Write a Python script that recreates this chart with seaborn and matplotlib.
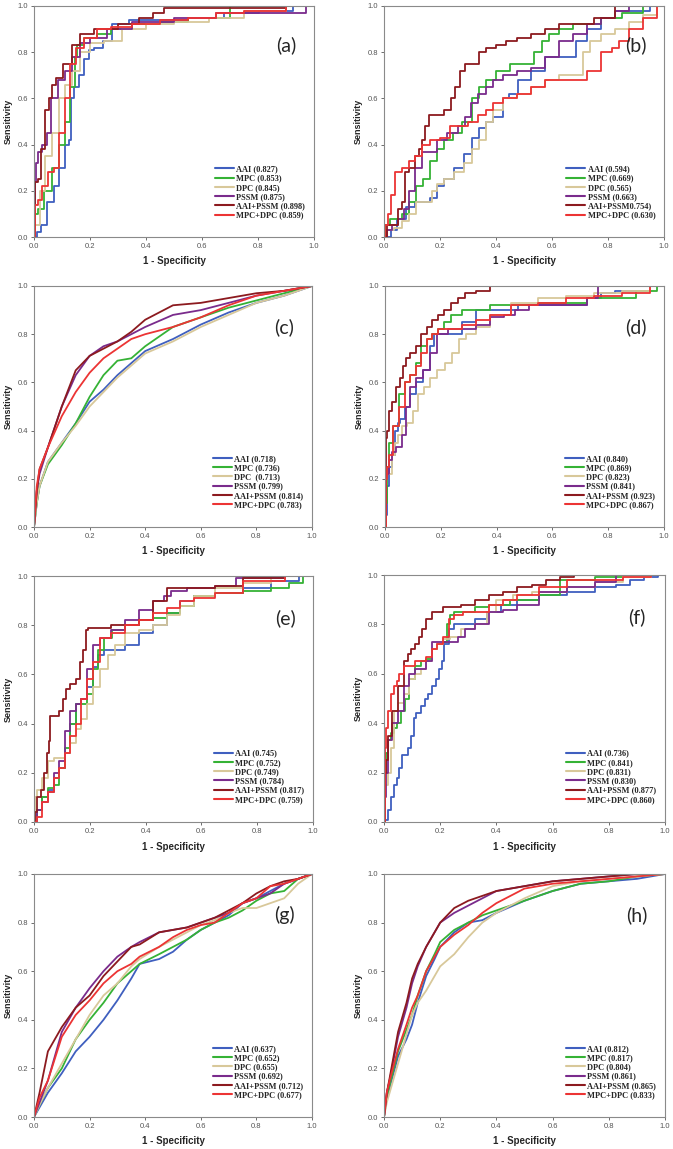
#==========================================
###     ROC CURVES, 8 PANELS
#==========================================
import pandas as pd
import numpy as np
import matplotlib
matplotlib.use('Agg')
import matplotlib.pyplot as plt
import seaborn as sns

sns.set_style('white')
plt.rcParams['font.family'] = ['Liberation Sans', 'DejaVu Sans']

#-----------------
## Data

methods = ['AAI', 'MPC', 'DPC', 'PSSM', 'AAI+PSSM', 'MPC+DPC']
colors = ['#3f5fbf', '#35b235', '#d8c89a', '#7a2b8c', '#8c1a1f', '#ec3434']
panel_names = ['(a)', '(b)', '(c)', '(d)', '(e)', '(f)', '(g)', '(h)']

# legend labels as printed (b has a typo in the original)
labels_a = ['AAI (0.827)', 'MPC (0.853)', 'DPC (0.845)', 'PSSM (0.875)', 'AAI+PSSM (0.898)', 'MPC+DPC (0.859)']
labels_b = ['AAI (0.594)', 'MPC (0.669)', 'DPC (0.565)', 'PSSM (0.663)', 'AAI+PSSM0.754)', 'MPC+DPC (0.630)']
labels_c = ['AAI (0.718)', 'MPC (0.736)', 'DPC  (0.713)', 'PSSM (0.799)', 'AAI+PSSM (0.814)', 'MPC+DPC (0.783)']
labels_d = ['AAI (0.840)', 'MPC (0.869)', 'DPC (0.823)', 'PSSM (0.841)', 'AAI+PSSM (0.923)', 'MPC+DPC (0.867)']
labels_e = ['AAI (0.745)', 'MPC (0.752)', 'DPC (0.749)', 'PSSM (0.784)', 'AAI+PSSM (0.817)', 'MPC+DPC (0.759)']
labels_f = ['AAI (0.736)', 'MPC (0.841)', 'DPC (0.831)', 'PSSM (0.830)', 'AAI+PSSM (0.877)', 'MPC+DPC (0.860)']
labels_g = ['AAI (0.637)', 'MPC (0.652)', 'DPC (0.655)', 'PSSM (0.692)', 'AAI+PSSM (0.712)', 'MPC+DPC (0.677)']
labels_h = ['AAI (0.812)', 'MPC (0.817)', 'DPC (0.804)', 'PSSM (0.861)', 'AAI+PSSM (0.865)', 'MPC+DPC (0.833)']

# (a)
a_aai_x = [0, 0.02, 0.03, 0.06, 0.08, 0.1, 0.12, 0.13, 0.135, 0.15, 0.17, 0.19, 0.2, 0.23, 0.26, 0.3, 0.38, 0.5, 0.6, 0.76, 0.85, 1.0]
a_aai_y = [0, 0.02, 0.05, 0.15, 0.22, 0.3, 0.4, 0.42, 0.6, 0.65, 0.7, 0.77, 0.81, 0.82, 0.85, 0.92, 0.94, 0.94, 0.95, 0.97, 0.98, 1.0]
a_mpc_x = [0, 0.01, 0.02, 0.05, 0.08, 0.1, 0.12, 0.14, 0.15, 0.16, 0.2, 0.25, 0.3, 0.4, 0.5, 0.6, 0.8, 1.0]
a_mpc_y = [0, 0.1, 0.12, 0.2, 0.3, 0.4, 0.5, 0.65, 0.78, 0.83, 0.86, 0.88, 0.9, 0.92, 0.93, 0.95, 1.0, 1.0]
a_dpc_x = [0, 0.01, 0.03, 0.05, 0.08, 0.1, 0.12, 0.15, 0.18, 0.22, 0.28, 0.35, 0.45, 0.55, 0.7, 0.8, 1.0]
a_dpc_y = [0, 0.05, 0.2, 0.35, 0.45, 0.6, 0.66, 0.72, 0.8, 0.84, 0.85, 0.9, 0.92, 0.93, 0.95, 0.98, 1.0]
a_pssm_x = [0, 0.005, 0.01, 0.02, 0.04, 0.05, 0.07, 0.1, 0.12, 0.15, 0.18, 0.22, 0.3, 0.4, 0.6, 0.7, 0.8, 0.94, 1.0]
a_pssm_y = [0, 0.24, 0.32, 0.37, 0.4, 0.45, 0.6, 0.68, 0.72, 0.78, 0.84, 0.86, 0.9, 0.93, 0.95, 0.97, 0.97, 0.97, 1.0]
a_ap_x = [0, 0.005, 0.02, 0.03, 0.05, 0.06, 0.07, 0.09, 0.12, 0.15, 0.18, 0.25, 0.35, 0.4, 0.45, 0.48, 0.6, 0.8, 1.0]
a_ap_y = [0, 0.24, 0.25, 0.38, 0.55, 0.6, 0.66, 0.69, 0.75, 0.83, 0.88, 0.9, 0.92, 0.95, 0.97, 0.99, 0.99, 0.99, 1.0]
a_md_x = [0, 0.005, 0.02, 0.04, 0.06, 0.08, 0.1, 0.12, 0.14, 0.16, 0.2, 0.25, 0.3, 0.4, 0.5, 0.6, 0.7, 0.8, 1.0]
a_md_y = [0, 0.14, 0.16, 0.22, 0.28, 0.3, 0.45, 0.6, 0.75, 0.82, 0.86, 0.9, 0.91, 0.92, 0.94, 0.95, 0.97, 0.98, 1.0]

# (b)
b_aai_x = [0, 0.02, 0.03, 0.06, 0.1, 0.12, 0.15, 0.18, 0.2, 0.23, 0.27, 0.3, 0.33, 0.35, 0.38, 0.4, 0.42, 0.43, 0.46, 0.5, 0.55, 0.6, 0.64, 0.67, 0.7, 0.75, 0.8, 0.85, 0.9, 1.0]
b_aai_y = [0, 0, 0.03, 0.08, 0.13, 0.15, 0.15, 0.17, 0.22, 0.25, 0.3, 0.36, 0.43, 0.47, 0.5, 0.52, 0.52, 0.6, 0.62, 0.68, 0.72, 0.78, 0.78, 0.78, 0.85, 0.9, 0.95, 0.98, 0.98, 1.0]
b_mpc_x = [0, 0.01, 0.03, 0.05, 0.08, 0.1, 0.13, 0.15, 0.18, 0.2, 0.23, 0.26, 0.3, 0.33, 0.35, 0.38, 0.42, 0.48, 0.52, 0.55, 0.58, 0.6, 0.65, 0.7, 0.75, 0.8, 0.9, 0.95, 1.0]
b_mpc_y = [0, 0.05, 0.08, 0.08, 0.1, 0.15, 0.22, 0.25, 0.33, 0.38, 0.42, 0.45, 0.5, 0.6, 0.65, 0.68, 0.72, 0.75, 0.75, 0.8, 0.85, 0.88, 0.9, 0.92, 0.92, 0.95, 0.97, 1.0, 1.0]
b_dpc_x = [0, 0.02, 0.05, 0.08, 0.1, 0.13, 0.16, 0.18, 0.2, 0.23, 0.27, 0.3, 0.33, 0.35, 0.38, 0.4, 0.45, 0.5, 0.55, 0.6, 0.65, 0.7, 0.72, 0.75, 0.8, 0.85, 0.9, 0.95, 1.0]
b_dpc_y = [0, 0.03, 0.04, 0.07, 0.1, 0.15, 0.15, 0.2, 0.23, 0.25, 0.28, 0.32, 0.38, 0.42, 0.5, 0.55, 0.6, 0.62, 0.65, 0.68, 0.7, 0.7, 0.8, 0.85, 0.88, 0.9, 0.93, 0.96, 1.0]
b_pssm_x = [0, 0.02, 0.04, 0.06, 0.08, 0.1, 0.12, 0.15, 0.18, 0.2, 0.25, 0.28, 0.3, 0.32, 0.35, 0.38, 0.4, 0.45, 0.5, 0.55, 0.6, 0.65, 0.7, 0.75, 0.8, 0.85, 0.9, 1.0]
b_pssm_y = [0, 0.03, 0.05, 0.08, 0.12, 0.2, 0.3, 0.37, 0.37, 0.42, 0.45, 0.48, 0.52, 0.58, 0.62, 0.65, 0.68, 0.7, 0.72, 0.73, 0.78, 0.85, 0.88, 0.92, 0.95, 0.98, 1.0, 1.0]
b_ap_x = [0, 0.02, 0.04, 0.06, 0.07, 0.08, 0.1, 0.12, 0.13, 0.14, 0.15, 0.17, 0.2, 0.23, 0.25, 0.26, 0.28, 0.3, 0.33, 0.35, 0.38, 0.42, 0.45, 0.5, 0.55, 0.6, 0.65, 0.7, 0.8, 0.85, 1.0]
b_ap_y = [0, 0.05, 0.05, 0.12, 0.15, 0.28, 0.3, 0.35, 0.38, 0.42, 0.48, 0.53, 0.53, 0.55, 0.6, 0.65, 0.72, 0.75, 0.75, 0.8, 0.82, 0.83, 0.85, 0.86, 0.88, 0.9, 0.92, 0.92, 0.95, 1.0, 1.0]
b_md_x = [0, 0.01, 0.02, 0.03, 0.05, 0.08, 0.1, 0.12, 0.15, 0.18, 0.22, 0.25, 0.28, 0.32, 0.35, 0.38, 0.4, 0.45, 0.5, 0.55, 0.6, 0.65, 0.7, 0.75, 0.8, 0.83, 0.85, 0.9, 0.95, 1.0]
b_md_y = [0, 0.05, 0.1, 0.18, 0.28, 0.3, 0.33, 0.35, 0.4, 0.42, 0.43, 0.48, 0.48, 0.5, 0.53, 0.55, 0.58, 0.6, 0.62, 0.65, 0.68, 0.68, 0.68, 0.72, 0.8, 0.82, 0.85, 0.9, 0.95, 1.0]

# (c)
c_x = [0, 0.01, 0.02, 0.05, 0.1, 0.15, 0.2, 0.25, 0.3, 0.35, 0.4, 0.5, 0.6, 0.7, 0.8, 0.9, 1.0]
c_aai_y = [0, 0.1, 0.17, 0.27, 0.35, 0.43, 0.52, 0.57, 0.63, 0.68, 0.73, 0.78, 0.84, 0.89, 0.93, 0.96, 1.0]
c_mpc_y = [0, 0.1, 0.17, 0.26, 0.34, 0.43, 0.54, 0.63, 0.69, 0.7, 0.75, 0.83, 0.87, 0.91, 0.94, 0.97, 1.0]
c_dpc_y = [0, 0.1, 0.17, 0.27, 0.35, 0.42, 0.5, 0.56, 0.62, 0.67, 0.72, 0.77, 0.83, 0.88, 0.93, 0.96, 1.0]
c_pssm_y = [0, 0.15, 0.22, 0.33, 0.5, 0.63, 0.71, 0.75, 0.77, 0.8, 0.83, 0.88, 0.9, 0.93, 0.96, 0.98, 1.0]
c_ap_y = [0, 0.15, 0.24, 0.33, 0.5, 0.65, 0.71, 0.74, 0.77, 0.81, 0.86, 0.92, 0.93, 0.95, 0.97, 0.98, 1.0]
c_md_y = [0, 0.17, 0.24, 0.33, 0.46, 0.56, 0.64, 0.7, 0.74, 0.78, 0.8, 0.83, 0.87, 0.92, 0.96, 0.98, 1.0]

# (d)
d_aai_x = [0, 0.005, 0.01, 0.02, 0.03, 0.04, 0.05, 0.06, 0.08, 0.1, 0.12, 0.15, 0.17, 0.18, 0.2, 0.25, 0.3, 0.35, 0.4, 0.45, 0.5, 0.6, 0.7, 0.75, 0.8, 0.85, 0.9, 1.0]
d_aai_y = [0, 0.05, 0.17, 0.25, 0.3, 0.4, 0.43, 0.45, 0.5, 0.55, 0.6, 0.65, 0.75, 0.8, 0.8, 0.8, 0.85, 0.9, 0.9, 0.9, 0.92, 0.92, 0.92, 0.95, 0.97, 0.98, 0.98, 1.0]
d_mpc_x = [0, 0.005, 0.01, 0.02, 0.04, 0.06, 0.08, 0.1, 0.12, 0.14, 0.16, 0.18, 0.2, 0.22, 0.25, 0.3, 0.35, 0.4, 0.5, 0.6, 0.7, 0.75, 0.85, 0.95, 1.0]
d_mpc_y = [0, 0.1, 0.25, 0.35, 0.42, 0.55, 0.6, 0.63, 0.68, 0.75, 0.78, 0.8, 0.82, 0.85, 0.88, 0.9, 0.9, 0.92, 0.92, 0.93, 0.93, 0.95, 0.95, 0.98, 1.0]
d_dpc_x = [0, 0.01, 0.02, 0.03, 0.04, 0.05, 0.07, 0.09, 0.11, 0.13, 0.15, 0.17, 0.2, 0.23, 0.25, 0.28, 0.3, 0.35, 0.4, 0.5, 0.6, 0.7, 0.8, 0.9, 1.0]
d_dpc_y = [0, 0.22, 0.22, 0.3, 0.35, 0.38, 0.42, 0.43, 0.48, 0.55, 0.58, 0.62, 0.65, 0.68, 0.72, 0.78, 0.8, 0.83, 0.88, 0.93, 0.95, 0.96, 0.97, 0.98, 1.0]
d_pssm_x = [0, 0.01, 0.02, 0.03, 0.05, 0.07, 0.08, 0.1, 0.12, 0.15, 0.17, 0.2, 0.25, 0.3, 0.35, 0.4, 0.45, 0.48, 0.55, 0.7, 0.75, 0.78, 0.85, 1.0]
d_pssm_y = [0, 0.22, 0.28, 0.31, 0.33, 0.38, 0.5, 0.58, 0.62, 0.65, 0.72, 0.8, 0.82, 0.82, 0.84, 0.87, 0.88, 0.9, 0.92, 0.92, 0.95, 1.0, 1.0, 1.0]
d_ap_x = [0, 0.005, 0.01, 0.02, 0.03, 0.05, 0.06, 0.07, 0.08, 0.1, 0.12, 0.14, 0.16, 0.18, 0.2, 0.22, 0.25, 0.27, 0.3, 0.35, 0.4, 1.0]
d_ap_y = [0, 0.37, 0.4, 0.48, 0.52, 0.58, 0.62, 0.67, 0.7, 0.72, 0.75, 0.8, 0.83, 0.86, 0.88, 0.9, 0.93, 0.95, 0.97, 0.98, 1.0, 1.0]
d_md_x = [0, 0.005, 0.01, 0.02, 0.04, 0.06, 0.08, 0.1, 0.12, 0.14, 0.16, 0.18, 0.2, 0.25, 0.3, 0.35, 0.4, 0.5, 0.6, 0.7, 0.8, 0.9, 1.0]
d_md_y = [0, 0.2, 0.25, 0.3, 0.42, 0.5, 0.6, 0.63, 0.67, 0.72, 0.78, 0.8, 0.82, 0.82, 0.84, 0.86, 0.88, 0.92, 0.93, 0.95, 0.96, 0.97, 1.0]

# (e)
e_aai_x = [0, 0.02, 0.04, 0.06, 0.08, 0.1, 0.12, 0.14, 0.16, 0.18, 0.2, 0.22, 0.24, 0.26, 0.3, 0.35, 0.4, 0.45, 0.5, 0.55, 0.6, 0.7, 0.8, 0.9, 1.0]
e_aai_y = [0, 0.05, 0.1, 0.13, 0.18, 0.22, 0.28, 0.4, 0.48, 0.5, 0.55, 0.63, 0.68, 0.7, 0.7, 0.72, 0.77, 0.8, 0.85, 0.9, 0.92, 0.93, 0.95, 0.98, 1.0]
e_mpc_x = [0, 0.02, 0.04, 0.06, 0.08, 0.1, 0.12, 0.14, 0.16, 0.18, 0.2, 0.22, 0.24, 0.26, 0.3, 0.35, 0.4, 0.45, 0.5, 0.55, 0.6, 0.7, 0.8, 0.9, 0.93, 1.0]
e_mpc_y = [0, 0.05, 0.1, 0.14, 0.15, 0.22, 0.3, 0.4, 0.48, 0.48, 0.52, 0.62, 0.7, 0.75, 0.78, 0.8, 0.82, 0.83, 0.85, 0.88, 0.92, 0.93, 0.94, 0.95, 0.97, 1.0]
e_dpc_x = [0, 0.005, 0.02, 0.04, 0.06, 0.08, 0.1, 0.12, 0.14, 0.16, 0.18, 0.2, 0.22, 0.25, 0.28, 0.3, 0.35, 0.4, 0.45, 0.5, 0.55, 0.6, 0.7, 0.8, 0.9, 1.0]
e_dpc_y = [0, 0.1, 0.13, 0.18, 0.25, 0.26, 0.26, 0.28, 0.32, 0.38, 0.42, 0.48, 0.55, 0.62, 0.68, 0.72, 0.77, 0.78, 0.8, 0.84, 0.88, 0.92, 0.95, 0.97, 1.0, 1.0]
e_pssm_x = [0, 0.02, 0.04, 0.06, 0.08, 0.1, 0.12, 0.14, 0.16, 0.18, 0.2, 0.22, 0.25, 0.3, 0.35, 0.4, 0.45, 0.48, 0.5, 0.6, 0.7, 0.75, 0.8, 1.0]
e_pssm_y = [0, 0.05, 0.08, 0.12, 0.2, 0.25, 0.37, 0.45, 0.48, 0.5, 0.62, 0.72, 0.75, 0.78, 0.82, 0.86, 0.9, 0.92, 0.94, 0.95, 0.96, 0.99, 0.99, 1.0]
e_ap_x = [0, 0.005, 0.02, 0.03, 0.04, 0.05, 0.055, 0.06, 0.08, 0.1, 0.11, 0.12, 0.14, 0.16, 0.17, 0.18, 0.19, 0.2, 0.25, 0.3, 0.35, 0.4, 0.45, 0.5, 0.6, 0.7, 0.8, 1.0]
e_ap_y = [0, 0.04, 0.1, 0.13, 0.2, 0.28, 0.33, 0.43, 0.43, 0.45, 0.5, 0.54, 0.56, 0.58, 0.65, 0.7, 0.78, 0.79, 0.79, 0.8, 0.8, 0.82, 0.9, 0.95, 0.95, 0.96, 0.99, 1.0]
e_md_x = [0, 0.02, 0.04, 0.06, 0.08, 0.1, 0.12, 0.14, 0.16, 0.18, 0.2, 0.22, 0.25, 0.3, 0.35, 0.4, 0.45, 0.5, 0.55, 0.6, 0.7, 0.8, 1.0]
e_md_y = [0, 0.02, 0.08, 0.12, 0.18, 0.22, 0.28, 0.35, 0.4, 0.5, 0.58, 0.65, 0.75, 0.77, 0.8, 0.82, 0.85, 0.87, 0.9, 0.91, 0.93, 0.98, 1.0]

# (f)
f_aai_x = [0, 0.01, 0.02, 0.03, 0.04, 0.05, 0.06, 0.07, 0.08, 0.09, 0.1, 0.11, 0.12, 0.14, 0.15, 0.16, 0.18, 0.19, 0.2, 0.21, 0.22, 0.24, 0.26, 0.3, 0.35, 0.38, 0.45, 0.5, 0.6, 0.7, 0.8, 0.85, 0.9, 0.95, 1.0]
f_aai_y = [0, 0.01, 0.05, 0.1, 0.15, 0.18, 0.22, 0.27, 0.27, 0.3, 0.35, 0.42, 0.44, 0.47, 0.5, 0.52, 0.55, 0.58, 0.62, 0.65, 0.72, 0.78, 0.8, 0.8, 0.82, 0.85, 0.88, 0.9, 0.92, 0.93, 0.95, 0.96, 0.98, 0.99, 1.0]
f_mpc_x = [0, 0.005, 0.01, 0.02, 0.03, 0.04, 0.05, 0.07, 0.08, 0.1, 0.12, 0.14, 0.16, 0.18, 0.2, 0.22, 0.23, 0.24, 0.26, 0.3, 0.35, 0.4, 0.5, 0.6, 0.65, 0.7, 0.8, 0.9, 1.0]
f_mpc_y = [0, 0.2, 0.28, 0.33, 0.36, 0.38, 0.4, 0.45, 0.5, 0.58, 0.63, 0.65, 0.66, 0.7, 0.72, 0.73, 0.8, 0.84, 0.85, 0.85, 0.87, 0.88, 0.9, 0.92, 0.98, 0.98, 0.99, 1.0, 1.0]
f_dpc_x = [0, 0.01, 0.02, 0.03, 0.04, 0.06, 0.08, 0.1, 0.12, 0.14, 0.16, 0.18, 0.2, 0.22, 0.25, 0.3, 0.35, 0.38, 0.42, 0.5, 0.55, 0.6, 0.7, 0.8, 0.9, 1.0]
f_dpc_y = [0, 0.15, 0.2, 0.3, 0.45, 0.48, 0.52, 0.58, 0.6, 0.62, 0.65, 0.7, 0.72, 0.74, 0.75, 0.78, 0.8, 0.85, 0.9, 0.92, 0.93, 0.93, 0.95, 0.97, 0.99, 1.0]
f_pssm_x = [0, 0.005, 0.01, 0.02, 0.04, 0.06, 0.08, 0.1, 0.12, 0.14, 0.16, 0.18, 0.2, 0.25, 0.28, 0.3, 0.35, 0.4, 0.45, 0.5, 0.6, 0.7, 0.8, 0.85, 1.0]
f_pssm_y = [0, 0.1, 0.2, 0.33, 0.4, 0.45, 0.55, 0.6, 0.62, 0.62, 0.65, 0.73, 0.73, 0.73, 0.75, 0.78, 0.8, 0.85, 0.86, 0.88, 0.93, 0.95, 0.97, 1.0, 1.0]
f_ap_x = [0, 0.005, 0.01, 0.02, 0.04, 0.06, 0.08, 0.09, 0.1, 0.12, 0.13, 0.14, 0.16, 0.18, 0.2, 0.22, 0.25, 0.3, 0.35, 0.4, 0.45, 0.5, 0.55, 0.6, 0.65, 0.7, 0.8, 1.0]
f_ap_y = [0, 0.2, 0.25, 0.35, 0.45, 0.55, 0.65, 0.68, 0.7, 0.72, 0.75, 0.78, 0.82, 0.85, 0.85, 0.87, 0.87, 0.88, 0.9, 0.92, 0.93, 0.95, 0.96, 0.98, 0.99, 1.0, 1.0, 1.0]
f_md_x = [0, 0.005, 0.01, 0.02, 0.03, 0.04, 0.05, 0.06, 0.08, 0.1, 0.12, 0.14, 0.16, 0.18, 0.2, 0.22, 0.24, 0.26, 0.3, 0.35, 0.4, 0.45, 0.5, 0.6, 0.7, 0.8, 0.9, 1.0]
f_md_y = [0, 0.3, 0.38, 0.45, 0.52, 0.55, 0.57, 0.6, 0.63, 0.63, 0.65, 0.65, 0.67, 0.7, 0.72, 0.75, 0.82, 0.84, 0.85, 0.85, 0.88, 0.9, 0.92, 0.95, 0.98, 0.98, 0.99, 1.0]

# (g)
g_x = [0, 0.02, 0.05, 0.1, 0.15, 0.2, 0.25, 0.3, 0.35, 0.38, 0.45, 0.5, 0.55, 0.6, 0.65, 0.7, 0.75, 0.8, 0.85, 0.9, 0.95, 1.0]
g_aai_y = [0, 0.04, 0.1, 0.18, 0.27, 0.33, 0.4, 0.48, 0.57, 0.63, 0.65, 0.68, 0.73, 0.77, 0.8, 0.83, 0.88, 0.9, 0.93, 0.96, 0.98, 1.0]
g_mpc_y = [0, 0.05, 0.12, 0.2, 0.32, 0.4, 0.47, 0.55, 0.6, 0.63, 0.67, 0.7, 0.73, 0.77, 0.8, 0.82, 0.85, 0.89, 0.92, 0.93, 0.98, 1.0]
g_dpc_y = [0, 0.05, 0.12, 0.22, 0.32, 0.42, 0.5, 0.55, 0.62, 0.65, 0.7, 0.73, 0.76, 0.79, 0.81, 0.84, 0.86, 0.86, 0.88, 0.9, 0.96, 1.0]
g_pssm_y = [0, 0.06, 0.15, 0.35, 0.45, 0.53, 0.6, 0.66, 0.7, 0.72, 0.76, 0.77, 0.78, 0.8, 0.82, 0.84, 0.88, 0.9, 0.92, 0.96, 0.98, 1.0]
g_ap_y = [0, 0.1, 0.27, 0.37, 0.45, 0.5, 0.58, 0.64, 0.7, 0.71, 0.76, 0.77, 0.78, 0.8, 0.82, 0.85, 0.88, 0.92, 0.95, 0.97, 0.98, 1.0]
g_md_y = [0, 0.08, 0.15, 0.33, 0.42, 0.48, 0.55, 0.6, 0.63, 0.66, 0.7, 0.74, 0.77, 0.79, 0.8, 0.84, 0.88, 0.9, 0.95, 0.96, 0.98, 1.0]

# (h)
h_x = [0, 0.01, 0.02, 0.05, 0.08, 0.1, 0.12, 0.15, 0.18, 0.2, 0.25, 0.3, 0.35, 0.4, 0.5, 0.6, 0.7, 0.8, 0.9, 1.0]
h_aai_y = [0, 0.08, 0.12, 0.25, 0.32, 0.38, 0.47, 0.58, 0.65, 0.7, 0.76, 0.8, 0.81, 0.84, 0.89, 0.93, 0.96, 0.97, 0.98, 1.0]
h_mpc_y = [0, 0.08, 0.13, 0.27, 0.36, 0.42, 0.5, 0.6, 0.67, 0.72, 0.77, 0.8, 0.83, 0.85, 0.89, 0.93, 0.96, 0.97, 0.99, 1.0]
h_dpc_y = [0, 0.06, 0.1, 0.22, 0.34, 0.42, 0.47, 0.52, 0.58, 0.62, 0.67, 0.74, 0.8, 0.84, 0.9, 0.95, 0.97, 0.98, 0.99, 1.0]
h_pssm_y = [0, 0.1, 0.15, 0.33, 0.45, 0.55, 0.62, 0.7, 0.76, 0.8, 0.84, 0.87, 0.9, 0.93, 0.95, 0.97, 0.98, 0.99, 1.0, 1.0]
h_ap_y = [0, 0.1, 0.16, 0.35, 0.47, 0.57, 0.63, 0.7, 0.76, 0.8, 0.86, 0.89, 0.91, 0.93, 0.95, 0.97, 0.98, 0.99, 1.0, 1.0]
h_md_y = [0, 0.1, 0.15, 0.28, 0.38, 0.45, 0.5, 0.6, 0.66, 0.7, 0.75, 0.79, 0.84, 0.88, 0.94, 0.96, 0.97, 0.98, 0.99, 1.0]

#-----------------
## Group the curves per panel

panels = [
    (labels_a, [(a_aai_x, a_aai_y), (a_mpc_x, a_mpc_y), (a_dpc_x, a_dpc_y), (a_pssm_x, a_pssm_y), (a_ap_x, a_ap_y), (a_md_x, a_md_y)], 'steps-mid'),
    (labels_b, [(b_aai_x, b_aai_y), (b_mpc_x, b_mpc_y), (b_dpc_x, b_dpc_y), (b_pssm_x, b_pssm_y), (b_ap_x, b_ap_y), (b_md_x, b_md_y)], 'steps-mid'),
    (labels_c, [(c_x, c_aai_y), (c_x, c_mpc_y), (c_x, c_dpc_y), (c_x, c_pssm_y), (c_x, c_ap_y), (c_x, c_md_y)], 'default'),
    (labels_d, [(d_aai_x, d_aai_y), (d_mpc_x, d_mpc_y), (d_dpc_x, d_dpc_y), (d_pssm_x, d_pssm_y), (d_ap_x, d_ap_y), (d_md_x, d_md_y)], 'steps-mid'),
    (labels_e, [(e_aai_x, e_aai_y), (e_mpc_x, e_mpc_y), (e_dpc_x, e_dpc_y), (e_pssm_x, e_pssm_y), (e_ap_x, e_ap_y), (e_md_x, e_md_y)], 'steps-mid'),
    (labels_f, [(f_aai_x, f_aai_y), (f_mpc_x, f_mpc_y), (f_dpc_x, f_dpc_y), (f_pssm_x, f_pssm_y), (f_ap_x, f_ap_y), (f_md_x, f_md_y)], 'steps-mid'),
    (labels_g, [(g_x, g_aai_y), (g_x, g_mpc_y), (g_x, g_dpc_y), (g_x, g_pssm_y), (g_x, g_ap_y), (g_x, g_md_y)], 'default'),
    (labels_h, [(h_x, h_aai_y), (h_x, h_mpc_y), (h_x, h_dpc_y), (h_x, h_pssm_y), (h_x, h_ap_y), (h_x, h_md_y)], 'default'),
]

# axes boxes in pixels: left, top, right, bottom
boxes = [(34, 6, 314, 237), (384, 6, 664, 237),
         (34, 286, 312, 527), (385, 286, 664, 527),
         (34, 576, 313, 822), (384, 575, 665, 822),
         (34, 874, 312, 1117), (384, 874, 665, 1117)]

W, H = 673, 1149
fig = plt.figure(figsize=(W / 100, H / 100), dpi=100)
fig.patch.set_facecolor('white')

for (labels, curves, dstyle), box, pname in zip(panels, boxes, panel_names):
    l, t, r, b = box
    ax = fig.add_axes([l / W, 1 - b / H, (r - l) / W, (b - t) / H])

    rows = []
    for lab, (xs, ys) in zip(labels, curves):
        for xv, yv in zip(xs, ys):
            rows.append({'fpr': xv, 'tpr': yv, 'model': lab})
    df = pd.DataFrame(rows)

    sns.lineplot(data=df, x='fpr', y='tpr', hue='model', hue_order=labels,
                 palette=colors, sort=False, estimator=None, linewidth=1.3,
                 drawstyle=dstyle, ax=ax)

    ax.set_xlim(0, 1)
    ax.set_ylim(0, 1)
    ax.set_xticks(np.arange(0, 1.01, 0.2))
    ax.set_yticks(np.arange(0, 1.01, 0.2))
    ax.set_xticklabels(['0.0', '0.2', '0.4', '0.6', '0.8', '1.0'])
    ax.set_yticklabels(['0.0', '0.2', '0.4', '0.6', '0.8', '1.0'])
    ax.tick_params(axis='both', labelsize=5.5, colors='#555555', length=2.5,
                   width=0.6, direction='out', pad=1.5)
    ax.tick_params(axis='x', bottom=True)
    ax.tick_params(axis='y', left=True)
    for sp in ax.spines.values():
        sp.set_color('#8a8a8a')
        sp.set_linewidth(0.8)

    ax.set_xlabel('1 - Specificity', fontsize=7, fontweight='bold', labelpad=5)
    ax.set_ylabel('Sensitivity', fontsize=6.5, fontweight='bold', labelpad=4)

    leg = ax.legend(loc='lower right', bbox_to_anchor=(0.99, 0.05), frameon=False,
                    prop={'family': 'Liberation Serif', 'weight': 'bold', 'size': 6},
                    handlelength=2.3, handletextpad=0.3, labelspacing=0.15,
                    borderpad=0.2)
    for lh in leg.get_lines():
        lh.set_linewidth(1.5)

    ax.text(0.9, 0.83, pname, transform=ax.transAxes, fontsize=14,
            family=['Lato', 'DejaVu Sans'], ha='center', va='center')

fig.savefig('out.png', dpi=100, facecolor='white')
